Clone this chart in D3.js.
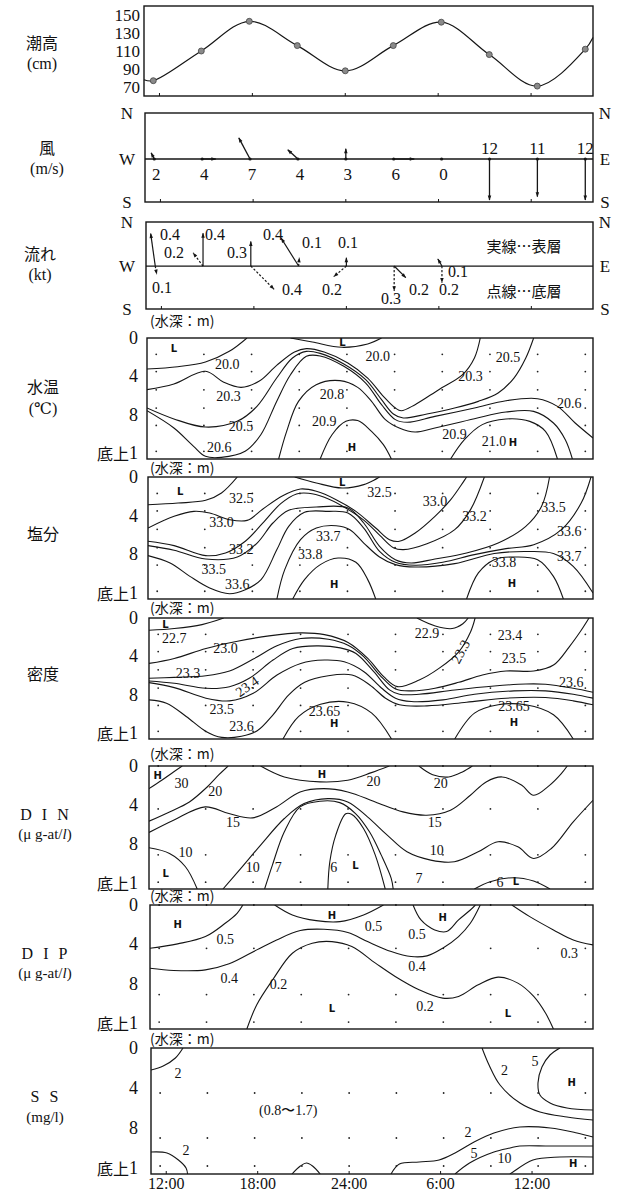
<!DOCTYPE html>
<html><head><meta charset="utf-8">
<script src="https://cdn.jsdelivr.net/npm/d3@7"></script>
<style>
body{margin:0;background:#fff}
svg text{font-family:"Liberation Serif","DejaVu Serif",serif;fill:#111}
svg text.jp, svg tspan.jp{font-family:"Noto Sans CJK JP","Noto Sans CJK SC",sans-serif}
</style></head><body>
<svg id="c" width="617" height="1190"></svg>
<script>
// ---------------- DATA ----------------
const obsTimes = [11.6,14.7,17.8,20.9,24.0,27.1,30.2,33.3,36.4,39.5];
const tideValues = [77,110,143,116,88,116,142,106,71,112];
const tideEdgeTimes = [11,40];
const tideEdgeValues = [78,125];
const tideTicks = [70,90,110,130,150];

const windSpeed = [2,4,7,4,3,6,0,12,11,12];
const windDir = [333,90,332,312,0,90,0,180,180,180];

const curSurfSpeed = [0.4,0.4,0.3,0.4,0.1,0.2,0.1,0,0,0];
const curSurfDir   = [352,0,0,328,0,135,330,0,0,0];
const curBotSpeed  = [0.1,0.2,0.4,0.1,0.2,0.3,0.2,0,0,0];
const curBotDir    = [170,323,135,5,230,180,180,0,0,0];
const curLabels = [[12.56,0.39,"0.4"],[12.82,0.16,"0.2"],[12.04,-0.26,"0.1"],[15.48,0.39,"0.4"],[16.9,0.16,"0.3"],
  [19.24,0.39,"0.4"],[21.77,0.29,"0.1"],[24.11,0.29,"0.1"],[20.47,-0.29,"0.4"],[23.07,-0.29,"0.2"],
  [26.9,-0.39,"0.3"],[28.71,-0.29,"0.2"],[30.66,-0.29,"0.2"],[31.24,-0.07,"0.1"]];

const timeTicks = [12,18,24,30,36];
const timeTickLabels = ["12:00","18:00","24:00","6:00","12:00"];
const depthTicks = [0,4,8,12];
const depthTickLabels = ["0","4","8","底上1"];

const tsdDotDepths = [1.7,3.5,5.4,7.3,9.1,11.8];
const nutDotDepths = [0,4.4,9.1,11.9];
const ssDotDepths = [4.5,9.0,11.8];

const tempLines = [
 [[11,3.23],[13,2.99],[14.8,2.5],[16.35,1.39],[17.5,0]],
 [[20.33,0],[21.75,0.42],[23.67,0.97],[25.35,0.62],[26.25,0]],
 [[11,5.38],[12.75,4.79],[14.8,3.47],[15.96,4.58],[17.12,5.14],[18.28,4.51],[19.43,2.85],[20.59,1.46],[21.36,1.11],[22.52,1.46],[24.06,2.6],[25.35,4.17],[26.37,6.07],[27.15,7.29],[27.53,7.57],[28.43,6.94],[29.97,5.38],[31.52,3.82],[32.29,2.08],[32.67,0]],
 [[11,7.29],[12.75,8.43],[14.8,9.27],[16.86,8.68],[18.15,7.12],[19.43,4.17],[20.46,2.08],[21.36,1.39],[22.26,1.6],[23.8,2.71],[25.22,4.34],[26.25,6.42],[27.02,7.91],[27.66,8.33],[29.2,7.91],[31.0,7.29],[32.54,6.6],[33.83,5.73],[34.86,4.17],[35.63,2.08],[36.14,0]],
 [[11,7.57],[12.75,9.37],[14.03,11.28],[14.8,12.32],[15.83,12.43],[17.38,11.8],[18.4,10.07],[19.43,6.6],[20.33,3.82],[21.36,1.91],[22.26,1.87],[23.8,2.95],[25.22,4.69],[26.25,6.94],[27.15,8.5],[27.92,8.78],[29.72,8.16],[32.29,7.29],[34.34,6.53],[36.4,6.32],[37.69,7.12],[38.84,8.85],[40,10.41]],
 [[19.56,12.6],[20.08,9.72],[20.85,6.6],[22.0,4.86],[23.55,4.44],[24.7,5.14],[25.6,6.6],[26.5,8.5],[27.4,9.37],[28.43,9.79],[29.72,9.37],[32.29,8.4],[34.34,7.71],[36.14,7.64],[37.43,8.85],[38.2,10.59],[38.66,12.6]],
 [[22.26,12.6],[23.03,10.07],[23.93,8.68],[24.7,8.6],[25.6,9.72],[26.37,11.11],[26.89,12.6]],
 [[30.74,12.6],[31.64,10.59],[32.8,9.02],[34.34,8.43],[35.89,8.68],[36.91,9.72],[37.69,12.6]]
];
const tempLabels = [[12.75,1.11,"L"],[16.22,2.71,"20.0"],[23.7,0.5,"L"],[26.0,1.91,"20.0"],[34.47,2.08,"20.5"],
 [32.03,4.0,"20.3"],[16.3,6.07,"20.3"],[23.03,5.9,"20.8"],[38.46,6.77,"20.6"],[17.12,9.2,"20.5"],
 [22.52,8.68,"20.9"],[15.7,11.38,"20.6"],[24.32,11.38,"H"],[31.0,10.07,"20.9"],[33.57,10.76,"21.0"],[34.8,10.83,"H"]];

const salLines = [
 [[11,2.86],[12.96,2.69],[14.76,2.41],[15.79,1.65],[16.82,0]],
 [[20.56,0],[21.97,0.62],[23.65,1.14],[25.06,0.79],[26.09,0]],
 [[11,5.27],[12.7,4.06],[13.99,3.55],[15.02,3.72],[16.31,4.41],[17.46,4.48],[18.49,3.3],[19.78,1.93],[20.94,1.24],[21.97,1.48],[23.26,2.34],[24.55,3.55],[25.84,5.27],[26.74,6.47],[27.38,6.64],[28.41,5.78],[29.7,4.06],[30.73,2.34],[31.76,0]],
 [[11,6.64],[12.7,7.09],[14.76,8.12],[16.05,7.85],[17.34,6.64],[18.49,4.75],[19.65,2.75],[20.68,1.75],[21.46,1.68],[22.49,2.1],[23.77,3.1],[25.06,4.45],[26.09,6.0],[26.99,7.3],[27.64,7.5],[29.18,6.89],[30.99,5.44],[32.02,3.37],[32.92,0]],
 [[11,7.09],[12.7,7.57],[14.76,8.47],[16.82,8.26],[18.11,6.82],[19.14,4.75],[20.17,3.44],[21.97,3.1],[24.03,3.2],[25.06,4.75],[26.09,7.16],[27.12,8.54],[28.15,8.88],[29.7,8.47],[31.76,7.85],[33.82,6.82],[35.62,5.1],[36.65,3.03],[37.17,0]],
 [[11,8.12],[12.44,8.88],[13.73,10.26],[15.02,11.46],[16.31,12.05],[17.34,11.64],[18.37,10.6],[19.4,7.5],[20.17,5.1],[21.2,3.65],[22.74,3.55],[24.03,3.72],[25.06,5.27],[26.09,7.68],[27.12,8.81],[28.41,9.12],[30.21,8.81],[32.27,8.02],[34.33,7.4],[36.14,6.99],[37.94,5.44],[39.23,2.69],[39.87,0]],
 [[19.4,12.6],[19.91,9.57],[20.94,6.47],[21.97,5.27],[23.26,5.03],[24.16,5.44],[25.06,6.82],[26.09,8.26],[27.12,9.05],[28.41,9.3],[30.99,8.95],[33.56,7.9],[35.62,7.7],[37.42,7.9],[38.71,9.23],[40,11.98]],
 [[20.43,12.6],[21.2,10.6],[22.23,9.05],[23.39,8.37],[24.55,8.81],[25.32,10.6],[25.84,12.6]],
 [[31.76,12.6],[32.53,9.91],[33.56,8.54],[34.85,8.26],[36.39,8.54],[37.42,10.26],[38.07,12.6]]
];
const salLabels = [[13.09,1.48,"L"],[17.08,2.17,"32.5"],[23.65,0.6,"L"],[26.09,1.65,"32.5"],[29.7,2.51,"33.0"],
 [32.27,4.06,"33.2"],[37.42,3.2,"33.5"],[15.79,4.75,"33.0"],[22.74,6.13,"33.7"],[38.45,5.61,"33.6"],
 [17.08,7.5,"33.2"],[21.58,8.02,"33.8"],[38.45,8.26,"33.7"],[34.2,8.88,"33.8"],[15.28,9.57,"33.5"],
 [23.13,11.12,"H"],[34.72,10.95,"H"],[16.82,11.12,"33.6"]];

const densLines = [
 [[11,1.28],[12.65,1.1],[14.46,0.69],[15.88,0]],
 [[11,4.73],[12.65,4.21],[14.72,3.18],[16.78,2.42],[18.84,1.86],[20.91,1.55],[22.46,1.73],[24.0,2.55],[25.29,4.21],[26.33,6.11],[27.23,7.15],[28.65,6.46],[29.94,5.25],[31.23,3.52],[32.0,1.45],[32.3,0]],
 [[28.5,0],[29.7,0.83],[30.8,1.1],[31.5,0.6],[31.85,0]],
 [[11,6.28],[12.65,6.18],[14.72,6.01],[16.26,5.52],[17.81,4.28],[19.36,2.9],[20.91,2.14],[22.71,2.21],[24.0,2.83],[25.04,4.04],[26.07,5.94],[27.1,7.39],[28.13,7.59],[29.68,7.32],[31.23,6.7],[32.78,5.94],[34.32,5.52],[36.13,5.52],[37.42,4.9],[38.45,3.0],[39.23,1.28],[39.74,0]],
 [[11,6.56],[12.65,6.8],[14.72,7.32],[16.26,7.15],[17.55,6.28],[19.1,4.38],[20.39,3.18],[21.94,2.9],[23.49,3.11],[24.52,3.69],[25.68,5.59],[26.71,7.49],[27.36,7.94],[28.65,7.94],[30.97,7.49],[33.55,7.08],[35.61,6.87],[36.9,6.9],[38.71,7.32],[40,7.73]],
 [[11,6.73],[12.65,7.25],[14.72,8.35],[16.26,8.63],[17.81,7.84],[19.36,5.94],[20.91,4.73],[22.46,4.38],[23.75,4.56],[25.04,5.59],[26.2,7.32],[27.1,8.35],[28.13,8.7],[30.2,8.53],[32.26,7.94],[34.84,7.59],[36.9,7.59],[38.71,7.94],[40,8.35]],
 [[11,8.53],[12.14,8.87],[13.43,10.25],[14.72,11.81],[15.75,12.43],[17.04,12.32],[18.07,11.74],[19.1,10.08],[20.13,8.01],[21.17,6.7],[22.71,6.01],[24.26,5.94],[25.42,6.97],[26.45,8.35],[27.36,9.04],[29.16,9.15],[31.74,8.77],[34.32,8.35],[36.9,8.28],[38.71,8.63],[40,9.04]],
 [[30.97,12.6],[32.26,9.91],[33.81,9.04],[35.61,9.04],[37.42,10.08],[38.71,12.6]],
 [[19.75,12.6],[20.78,10.25],[22.2,8.98],[24.0,8.77],[25.55,9.91],[26.84,12.6]]
];
const densLabels = [[12.08,0.69,"L"],[12.65,2.14,"22.7"],[16.0,3.18,"23.0"],[29.16,1.62,"22.9"],[34.58,1.86,"23.4"],
 [31.36,3.52,"23.3"],[13.55,5.76,"23.3"],[34.84,4.21,"23.5"],[17.42,7.15,"23.4"],[38.58,6.7,"23.6"],
 [15.75,9.56,"23.5"],[22.46,9.73,"23.65"],[23.1,10.94,"H"],[34.84,9.22,"23.65"],[34.84,10.84,"H"],[17.04,11.29,"23.6"]];

const dinLines = [
 [[11,2.32],[11.83,1.46],[12.6,0.61],[13.17,0]],
 [[11,5.65],[12.34,4.7],[13.64,3.68],[14.8,2.15],[15.57,0.89],[16.17,0]],
 [[18.29,0],[19.84,1.12],[22.17,1.63],[23.98,1.46],[25.53,0.68],[26.69,0]],
 [[28.63,0],[29.53,0.89],[30.57,1.12],[31.47,0.61],[32.12,0]],
 [[11,6.81],[12.6,5.55],[14.67,4.19],[16.22,4.87],[17.77,5.31],[19.32,4.19],[20.87,2.66],[22.42,2.32],[23.98,2.66],[25.78,3.68],[27.59,4.7],[29.14,5.04],[30.69,4.53],[31.99,3.0],[33.02,1.63],[34.06,1.12],[35.35,1.98],[36.12,3.0],[37.16,1.98],[37.93,0.78],[38.32,0]],
 [[11,8.38],[12.34,8.96],[13.38,10.32],[14.15,12.6]],
 [[15.83,12.6],[17.0,10.49],[18.29,8.1],[19.84,5.38],[21.13,3.85],[22.68,3.34],[23.98,3.68],[25.27,5.21],[26.56,7.08],[27.85,8.79],[29.4,9.64],[30.95,9.81],[32.5,8.79],[33.8,7.76],[35.09,8.28],[36.12,9.47],[37.28,8.45],[38.71,5.72],[40,3.51]],
 [[18.55,12.6],[19.06,10.15],[19.84,6.74],[20.87,4.19],[22.17,3.61],[23.46,3.75],[24.49,4.87],[25.4,6.74],[26.17,9.13],[26.82,11.51],[26.95,12.6]],
 [[22.68,12.6],[22.81,9.81],[23.2,7.08],[23.85,4.9],[24.23,4.95],[25.01,6.4],[25.78,9.13],[26.43,12.6]],
 [[32.25,12.6],[33.28,11.85],[34.83,11.44],[36.12,11.78],[37.19,12.6]]
];
const dinLabels = [[11.57,1.02,"H"],[13.12,1.8,"30"],[15.32,2.66,"20"],[22.3,0.89,"H"],[25.66,1.63,"20"],[30.05,1.8,"20"],
 [16.48,5.79,"15"],[29.66,5.79,"15"],[13.38,8.85,"10"],[29.79,8.62,"10"],[17.77,10.39,"10"],[19.45,10.39,"7"],
 [23.07,10.39,"6"],[24.49,10.22,"L"],[12.09,11.0,"L"],[28.63,11.51,"7"],[33.92,11.92,"6"],[34.96,11.85,"L"]];

const dipLines = [
 [[11,4.39],[12.81,3.95],[14.63,3.21],[15.92,1.86],[16.7,0.84],[17.08,0]],
 [[19.16,0],[20.32,1.01],[21.88,1.59],[23.43,1.69],[24.98,1.01],[26.28,0]],
 [[28.22,0],[28.74,1.52],[29.64,2.53],[30.42,2.7],[31.2,1.52],[31.97,0.51],[32.3,0]],
 [[34.69,0],[35.86,1.18],[37.41,2.53],[38.71,3.55],[40,4.05]],
 [[11,6.42],[12.55,6.65],[14.63,6.59],[16.18,5.98],[17.99,4.56],[19.29,3.55],[20.84,2.6],[22.39,2.47],[23.95,2.8],[25.24,3.72],[26.79,4.73],[28.09,5.24],[29.13,5.17],[30.16,4.39],[31.2,3.21],[31.97,1.86],[32.62,0]],
 [[17.34,12.6],[17.99,10.13],[19.03,7.6],[20.32,4.9],[21.62,3.88],[22.91,3.72],[24.21,4.22],[25.76,5.91],[27.05,7.26],[28.61,8.61],[30.16,9.46],[31.2,9.29],[32.49,8.11],[33.79,7.33],[35.08,7.94],[36.12,9.29],[36.89,10.98],[37.41,12.6]]
];
const dipLabels = [[12.81,2.03,"H"],[15.92,3.55,"0.5"],[22.91,1.11,"H"],[25.63,2.2,"0.5"],[30.16,1.25,"H"],[28.48,3.04,"0.5"],
 [38.45,4.9,"0.3"],[16.18,7.43,"0.4"],[28.48,6.25,"0.4"],[19.42,8.11,"0.2"],[29.0,10.3,"0.2"],[22.91,10.47,"L"],[34.43,10.98,"L"]];

const ssLines = [
 [[11,2.2],[11.8,1.8],[12.6,1.0],[13.1,0]],
 [[11,10.4],[12.05,10.5],[12.8,11.2],[13.3,12.0],[13.4,12.6]],
 [[20.25,12.6],[20.8,11.8],[21.2,11.5],[21.6,11.8],[22.1,12.6]],
 [[26.75,12.6],[27.3,11.6],[28.6,11.4],[29.9,11.2],[30.95,10.5],[32.2,9.4],[33.5,8.5],[35.2,7.9],[37.2,8.0],[38.95,8.5],[40,8.9]],
 [[30.95,12.6],[31.9,11.5],[33.5,10.4],[34.55,10.0],[35.2,9.8],[37.2,9.8],[40,9.8]],
 [[34.55,12.6],[34.75,12.4],[36.06,11.2],[37.83,10.9],[40,10.9]],
 [[32.72,0],[33.18,1.7],[33.9,3.7],[35.21,5.5],[36.52,6.4],[38.29,6.9],[40,7.2]],
 [[37.83,0],[37.18,0.7],[36.65,1.9],[36.39,3.5],[36.52,4.7],[37.18,5.5],[38.29,6.0],[40,6.2]]
];
const ssLabels = [[12.77,2.5,"2"],[13.3,10.2,"2"],[20.0,6.2,"(0.8〜1.7)"],[34.2,2.2,"2"],[36.2,1.3,"5"],[38.6,3.4,"H"],
 [31.8,8.4,"2"],[32.2,10.5,"5"],[34.2,11.0,"10"],[38.7,11.5,"H"]];

// ---------------- LAYOUT ----------------
const L = {tide:[144,593,6,96], wind:[145,593,113,202], cur:[146,593,222,309],
  temp:[147,593,338,459], sal:[148,593,477,599], dens:[149,593,618,739],
  din:[149,593,766,889], dip:[150,593,905,1029], ss:[151,593,1048,1174]};
const ink = "#151515";
const svg = d3.select("#c");
const defs = svg.append("defs");
defs.append("marker").attr("id","ah").attr("viewBox","0 0 10 10").attr("refX",9).attr("refY",5)
  .attr("markerWidth",7).attr("markerHeight",5).attr("markerUnits","userSpaceOnUse").attr("orient","auto")
  .append("path").attr("d","M0,1.5 L10,5 L0,8.5 Z").attr("fill",ink);

function xs(p){ return d3.scaleLinear().domain([11,40]).range([L[p][0],L[p][1]]); }
function box(p){ const [x0,x1,y0,y1]=L[p];
  svg.append("rect").attr("x",x0).attr("y",y0).attr("width",x1-x0).attr("height",y1-y0)
   .attr("fill","none").attr("stroke",ink).attr("stroke-width",1.4); }
function bottomTicks(p){ const x=xs(p); const y1=L[p][3];
  svg.append("g").selectAll("line").data(timeTicks).join("line")
   .attr("x1",d=>x(d)).attr("x2",d=>x(d)).attr("y1",y1).attr("y2",y1-3).attr("stroke",ink).attr("stroke-width",1); }
function txt(x,y,s,size,jp,anchor){
  return svg.append("text").attr("x",x).attr("y",y).attr("text-anchor",anchor||"middle")
    .attr("dominant-baseline","central").attr("class",jp?"jp":null).attr("font-size",size).text(s);
}

// ---------------- TIDE ----------------
(function(){
  const x=xs("tide"); const y=d3.scaleLinear().domain([60,160]).range([L.tide[3],L.tide[2]]);
  const pts=[[tideEdgeTimes[0],tideEdgeValues[0]]].concat(obsTimes.map((t,i)=>[t,tideValues[i]]),[[tideEdgeTimes[1],tideEdgeValues[1]]]);
  svg.append("path").datum(pts).attr("d",d3.line().x(d=>x(d[0])).y(d=>y(d[1])).curve(d3.curveCatmullRom.alpha(0.5)))
    .attr("fill","none").attr("stroke",ink).attr("stroke-width",1.2);
  svg.append("g").selectAll("circle").data(obsTimes).join("circle").attr("cx",d=>x(d)).attr("cy",(d,i)=>y(tideValues[i]))
    .attr("r",3).attr("fill","#8a8a8a").attr("stroke","#444").attr("stroke-width",0.8);
  box("tide"); bottomTicks("tide");
  svg.append("g").selectAll("text").data(tideTicks).join("text").attr("x",140).attr("y",d=>y(d))
    .attr("text-anchor","end").attr("dominant-baseline","central").attr("font-size",17).text(d=>d);
  txt(42,42,"潮高",16,true); txt(42,63,"(cm)",16,false);
})();

// ---------------- WIND ----------------
(function(){
  const x=xs("wind"); const y=d3.scaleLinear().domain([-12.57,13.45]).range([L.wind[3],L.wind[2]]);
  const k=y(0)-y(1);
  box("wind"); bottomTicks("wind");
  svg.append("line").attr("x1",L.wind[0]).attr("x2",L.wind[1]).attr("y1",y(0)).attr("y2",y(0)).attr("stroke",ink).attr("stroke-width",1.3);
  const g=svg.append("g");
  obsTimes.forEach((t,i)=>{
    const s=windSpeed[i], a=windDir[i]*Math.PI/180;
    const bx=x(t), by=y(0);
    g.append("circle").attr("cx",bx).attr("cy",by).attr("r",1.6).attr("fill",ink);
    if(s>0){
      g.append("line").attr("x1",bx).attr("y1",by).attr("x2",bx+k*s*Math.sin(a)).attr("y2",y(s*Math.cos(a)))
       .attr("stroke",ink).attr("stroke-width",1.3).attr("marker-end","url(#ah)");
    }
    const south = Math.cos(a)<-0.5 && s>0;
    g.append("text").attr("x",bx+(south?0:2)).attr("y",south? by-11 : by+15).attr("text-anchor","middle")
     .attr("dominant-baseline","central").attr("font-size",17).text(s);
  });
  [["N",L.wind[2]],["W",y(0)],["S",L.wind[3]]].forEach(d=>txt(127,d[1],d[0],17,false));
  [["N",L.wind[2]],["E",y(0)],["S",L.wind[3]]].forEach(d=>txt(605,d[1],d[0],17,false));
  txt(47,147,"風",16,true); txt(47,168,"(m/s)",16,false);
})();

// ---------------- CURRENT ----------------
(function(){
  const x=xs("cur"); const y=d3.scaleLinear().domain([-0.524,0.537]).range([L.cur[3],L.cur[2]]);
  const k=y(0)-y(1);
  box("cur"); bottomTicks("cur");
  svg.append("line").attr("x1",L.cur[0]).attr("x2",L.cur[1]).attr("y1",y(0)).attr("y2",y(0)).attr("stroke",ink).attr("stroke-width",1.3);
  const g=svg.append("g");
  function arrow(t,s,dir,dash){
    if(!(s>0)) return;
    const a=dir*Math.PI/180, bx=x(t), by=y(0);
    g.append("line").attr("x1",bx).attr("y1",by).attr("x2",bx+k*s*Math.sin(a)).attr("y2",y(s*Math.cos(a)))
     .attr("stroke",ink).attr("stroke-width",1.2).attr("stroke-dasharray",dash?"2.2,1.8":null).attr("marker-end","url(#ah)");
  }
  obsTimes.forEach((t,i)=>{ arrow(t,curSurfSpeed[i],curSurfDir[i],false); arrow(t,curBotSpeed[i],curBotDir[i],true); });
  g.selectAll("text.cv").data(curLabels).join("text").attr("class","cv").attr("x",d=>x(d[0])).attr("y",d=>y(d[1]))
    .attr("text-anchor","middle").attr("dominant-baseline","central").attr("font-size",16).text(d=>d[2]);
  [["N",L.cur[2]],["W",y(0)],["S",L.cur[3]]].forEach(d=>txt(127,d[1],d[0],17,false));
  [["N",L.cur[2]],["E",y(0)],["S",L.cur[3]]].forEach(d=>txt(605,d[1],d[0],17,false));
  txt(524,245,"実線…表層",15,true);
  txt(524,290,"点線…底層",15,true);
  txt(40,253,"流れ",16,true); txt(40,274,"(kt)",16,false);
})();

// ---------------- CONTOUR PANELS ----------------
function contourPanel(p, lines, labels, dotDepths, rot, depthLabelY){
  const [x0,x1,y0,y1]=L[p];
  const x=xs(p);
  const y=d3.scaleLinear().domain([0,12.6]).range([y0,y1]);
  const cid="clip-"+p;
  defs.append("clipPath").attr("id",cid).append("rect").attr("x",x0).attr("y",y0).attr("width",x1-x0).attr("height",y1-y0);
  const g=svg.append("g");
  const line=d3.line().x(d=>x(d[0])).y(d=>y(d[1])).curve(d3.curveCatmullRom.alpha(0.5));
  g.append("g").attr("clip-path",`url(#${cid})`).selectAll("path").data(lines).join("path")
    .attr("d",line).attr("fill","none").attr("stroke",ink).attr("stroke-width",1.1);
  const pts=[]; obsTimes.forEach(t=>dotDepths.forEach(d=>pts.push([t,d])));
  g.append("g").selectAll("circle").data(pts).join("circle").attr("cx",d=>x(d[0])).attr("cy",d=>y(d[1])).attr("r",0.9).attr("fill","#222");
  const isHL=d=>d[2]==="H"||d[2]==="L";
  g.append("g").selectAll("text").data(labels).join("text")
    .attr("transform",(d,i)=>`translate(${x(d[0])},${y(d[1])})`+(rot&&rot[i]!==undefined?` rotate(${rot[i]})`:""))
    .attr("text-anchor","middle").attr("dominant-baseline","central")
    .attr("font-size",d=>isHL(d)?10:14)
    .attr("font-weight",d=>isHL(d)?"bold":null)
    .style("font-family",d=>isHL(d)?"'DejaVu Sans',sans-serif":null)
    .text(d=>d[2]);
  box(p);
  depthTicks.forEach((d,i)=>{
    const t=svg.append("text").attr("x",138).attr("y",y(d)).attr("text-anchor","end").attr("dominant-baseline","central").attr("font-size",18);
    if(i===3){ t.append("tspan").attr("class","jp").attr("font-size",16).text("底上"); t.append("tspan").text("1"); }
    else t.text(depthTickLabels[i]);
  });
  svg.append("text").attr("x",150).attr("y",depthLabelY).attr("dominant-baseline","central").attr("class","jp").attr("font-size",14).text("(水深：m)");
  return {x,y};
}
contourPanel("temp",tempLines,tempLabels,tsdDotDepths,null,320);
contourPanel("sal",salLines,salLabels,tsdDotDepths,null,467);
contourPanel("dens",densLines,densLabels,tsdDotDepths,{5:-62,8:-35},607);
contourPanel("din",dinLines,dinLabels,nutDotDepths,null,753);
contourPanel("dip",dipLines,dipLabels,nutDotDepths,null,895);
const ssP=contourPanel("ss",ssLines,ssLabels,ssDotDepths,null,1038);

// x axis bottom
svg.append("g").selectAll("line").data(timeTicks).join("line").attr("x1",d=>ssP.x(d)).attr("x2",d=>ssP.x(d))
  .attr("y1",L.ss[3]).attr("y2",L.ss[3]-3).attr("stroke",ink);
svg.append("g").selectAll("text").data(timeTicks).join("text").attr("x",d=>ssP.x(d)).attr("y",1183)
  .attr("text-anchor","middle").attr("dominant-baseline","central").attr("font-size",16).text((d,i)=>timeTickLabels[i]);

// panel titles
txt(43,386,"水温",16,true); txt(43,408,"(℃)",16,false);
txt(43,533,"塩分",16,true);
txt(43,673,"密度",16,true);
txt(46,814,"D I N",16,false).attr("letter-spacing",3);
txt(46,953,"D I P",16,false).attr("letter-spacing",3);
txt(46,1096,"S S",16,false).attr("letter-spacing",3);
txt(45,1117,"(mg/l)",15,false);
[834,973].forEach(yy=>{
  const t=svg.append("text").attr("x",45).attr("y",yy).attr("text-anchor","middle").attr("dominant-baseline","central").attr("font-size",15);
  t.append("tspan").text("(μ g-at/"); t.append("tspan").attr("font-style","italic").text("l"); t.append("tspan").text(")");
});
</script></body></html>
